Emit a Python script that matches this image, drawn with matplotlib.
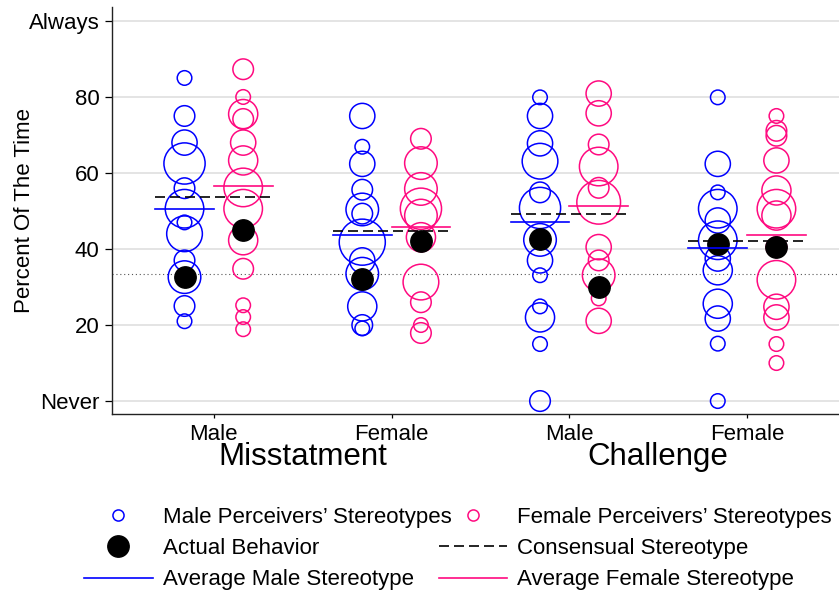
import matplotlib
matplotlib.use("Agg")
import matplotlib.pyplot as plt
from matplotlib.lines import Line2D

plt.rcParams['font.family'] = ['Liberation Sans', 'DejaVu Sans']

BLUE = '#0000FF'
PINK = '#FF0A80'

# x positions: 1..4 = Misstatment/Male, Misstatment/Female, Challenge/Male, Challenge/Female
groups = [1, 2, 3, 4]
target_labels = ['Male', 'Female', 'Male', 'Female']
task_labels = ['Misstatment', 'Challenge']

# male perceivers' stereotypes (value, number of perceivers)
male_vals = [
    [85, 75, 68, 62.5, 56, 50.6, 47, 44, 37, 32.6, 25, 21],
    [75, 66.9, 62.4, 55.6, 50.4, 49.3, 41.8, 37, 33.5, 24.9, 20, 19.1],
    [79.9, 75, 67.8, 63.1, 54.9, 50.8, 42.4, 37, 33.1, 24.9, 22, 15, 0],
    [79.9, 62.4, 54.9, 50.6, 47.5, 42.3, 37.5, 34.4, 25.6, 21.7, 15.1, 0],
]
male_n = [
    [1, 2, 3, 8, 2, 7, 1, 6, 2, 5, 2, 1],
    [3, 1, 3, 2, 5, 2, 10, 3, 5, 4, 2, 1],
    [1, 3, 3, 6, 2, 8, 5, 3, 1, 1, 4, 1, 2],
    [1, 3, 1, 7, 3, 7, 3, 4, 4, 3, 1, 1],
]
# female perceivers' stereotypes
female_vals = [
    [87.3, 80, 75.5, 74.2, 68, 63.3, 56.2, 50.6, 42.3, 34.8, 25.2, 22.1, 18.9],
    [69, 62.6, 55.8, 50.6, 48.8, 43.1, 31.3, 26, 20, 17.9],
    [80.9, 75.7, 67.5, 61.7, 56.1, 52.3, 40.5, 37, 33.1, 27, 21.1],
    [75, 71.1, 69.8, 63.3, 55.4, 50.6, 48.8, 40.5, 31.9, 24.8, 22, 15, 10],
]
female_n = [
    [2, 1, 4, 2, 3, 4, 7, 7, 4, 2, 1, 1, 1],
    [2, 5, 5, 8, 5, 4, 6, 2, 1, 2],
    [3, 3, 2, 7, 2, 9, 3, 2, 5, 1, 3],
    [1, 2, 2, 3, 4, 7, 4, 2, 7, 3, 3, 1, 1],
]

avg_male = [50.6, 43.8, 47.1, 40.3]
avg_female = [56.7, 45.9, 51.4, 43.8]
consensual = [53.8, 44.7, 49.3, 42.0]
actual_male = [32.6, 32.0, 42.7, 41.4]
actual_female = [45.1, 42.1, 30.0, 40.5]
chance = 100 / 3

yticks = [0, 20, 40, 60, 80, 100]
yticklabels = ['Never', '20', '40', '60', '80', 'Always']

FS = 16

fig = plt.figure(figsize=(8.39, 5.92), dpi=100)
ax = fig.add_axes([112 / 839, 178 / 592, 727 / 839, 407 / 592])

off = 0.165
for i, g in enumerate(groups):
    ax.scatter([g - off] * len(male_vals[i]), male_vals[i],
               s=[110 * n for n in male_n[i]], facecolors='none',
               edgecolors=BLUE, linewidths=1.1, zorder=3, clip_on=False)
    ax.scatter([g + off] * len(female_vals[i]), female_vals[i],
               s=[110 * n for n in female_n[i]], facecolors='none',
               edgecolors=PINK, linewidths=1.1, zorder=3, clip_on=False)
    ax.plot([g - off, g + off], [actual_male[i], actual_female[i]], ls='none',
            marker='o', ms=15.4, color='black', zorder=4)
    ax.plot([g - 2 * off, g], [avg_male[i]] * 2, color=BLUE, lw=1.2, zorder=5)
    ax.plot([g, g + 2 * off], [avg_female[i]] * 2, color=PINK, lw=1.2, zorder=5)
    ax.plot([g - 2 * off, g + 2 * off], [consensual[i]] * 2, color='black',
            lw=1.2, ls=(0, (6, 3)), zorder=5)

ax.axhline(chance, color='#555555', lw=0.8, ls=(0, (1, 2.5)), zorder=2)

ax.set_xlim(0.427, 4.517)
ax.set_ylim(-3.41, 103.67)
ax.set_yticks(yticks)
ax.set_yticklabels(yticklabels)
ax.set_xticks(groups)
ax.set_xticklabels(target_labels)
ax.grid(axis='y', color='#DCDCDC', lw=1.1, zorder=0)
ax.set_axisbelow(True)
ax.tick_params(axis='y', labelsize=FS, length=5, width=0.9, pad=4)
ax.tick_params(axis='x', labelsize=FS, length=3, width=0.9, pad=4)
for side in ['top', 'right']:
    ax.spines[side].set_visible(False)
for side in ['left', 'bottom']:
    ax.spines[side].set_linewidth(1.0)
    ax.spines[side].set_color('#222222')

ax.set_ylabel('Percent Of The Time', fontsize=FS)
ax.yaxis.set_label_coords(-0.1055, 0.5)

for j, lab in enumerate(task_labels):
    ax.text(1.5 + 2 * j, -0.1253, lab, transform=ax.get_xaxis_transform(),
            ha='center', va='baseline', fontsize=22.5)

handles = [
    Line2D([], [], ls='none', marker='o', mfc='none', mec=BLUE, ms=8, mew=1.1),
    Line2D([], [], ls='none', marker='o', color='black', ms=15.4),
    Line2D([], [], color=BLUE, lw=1.2),
    Line2D([], [], ls='none', marker='o', mfc='none', mec=PINK, ms=8, mew=1.1),
    Line2D([], [], color='black', lw=1.2, ls=(0, (6, 3))),
    Line2D([], [], color=PINK, lw=1.2),
]
labels = ["Male Perceivers\u2019 Stereotypes", 'Actual Behavior',
          'Average Male Stereotype', "Female Perceivers\u2019 Stereotypes",
          'Consensual Stereotype', 'Average Female Stereotype']
fig.legend(handles, labels, ncol=2, loc='upper left',
           bbox_to_anchor=(84 / 839, (592 - 506.5) / 592), frameon=False,
           fontsize=FS, handlelength=3.1, handletextpad=0.45,
           columnspacing=-0.59, labelspacing=0.47, borderpad=0,
           borderaxespad=0)

fig.savefig('out.png', dpi=100, facecolor='white')
